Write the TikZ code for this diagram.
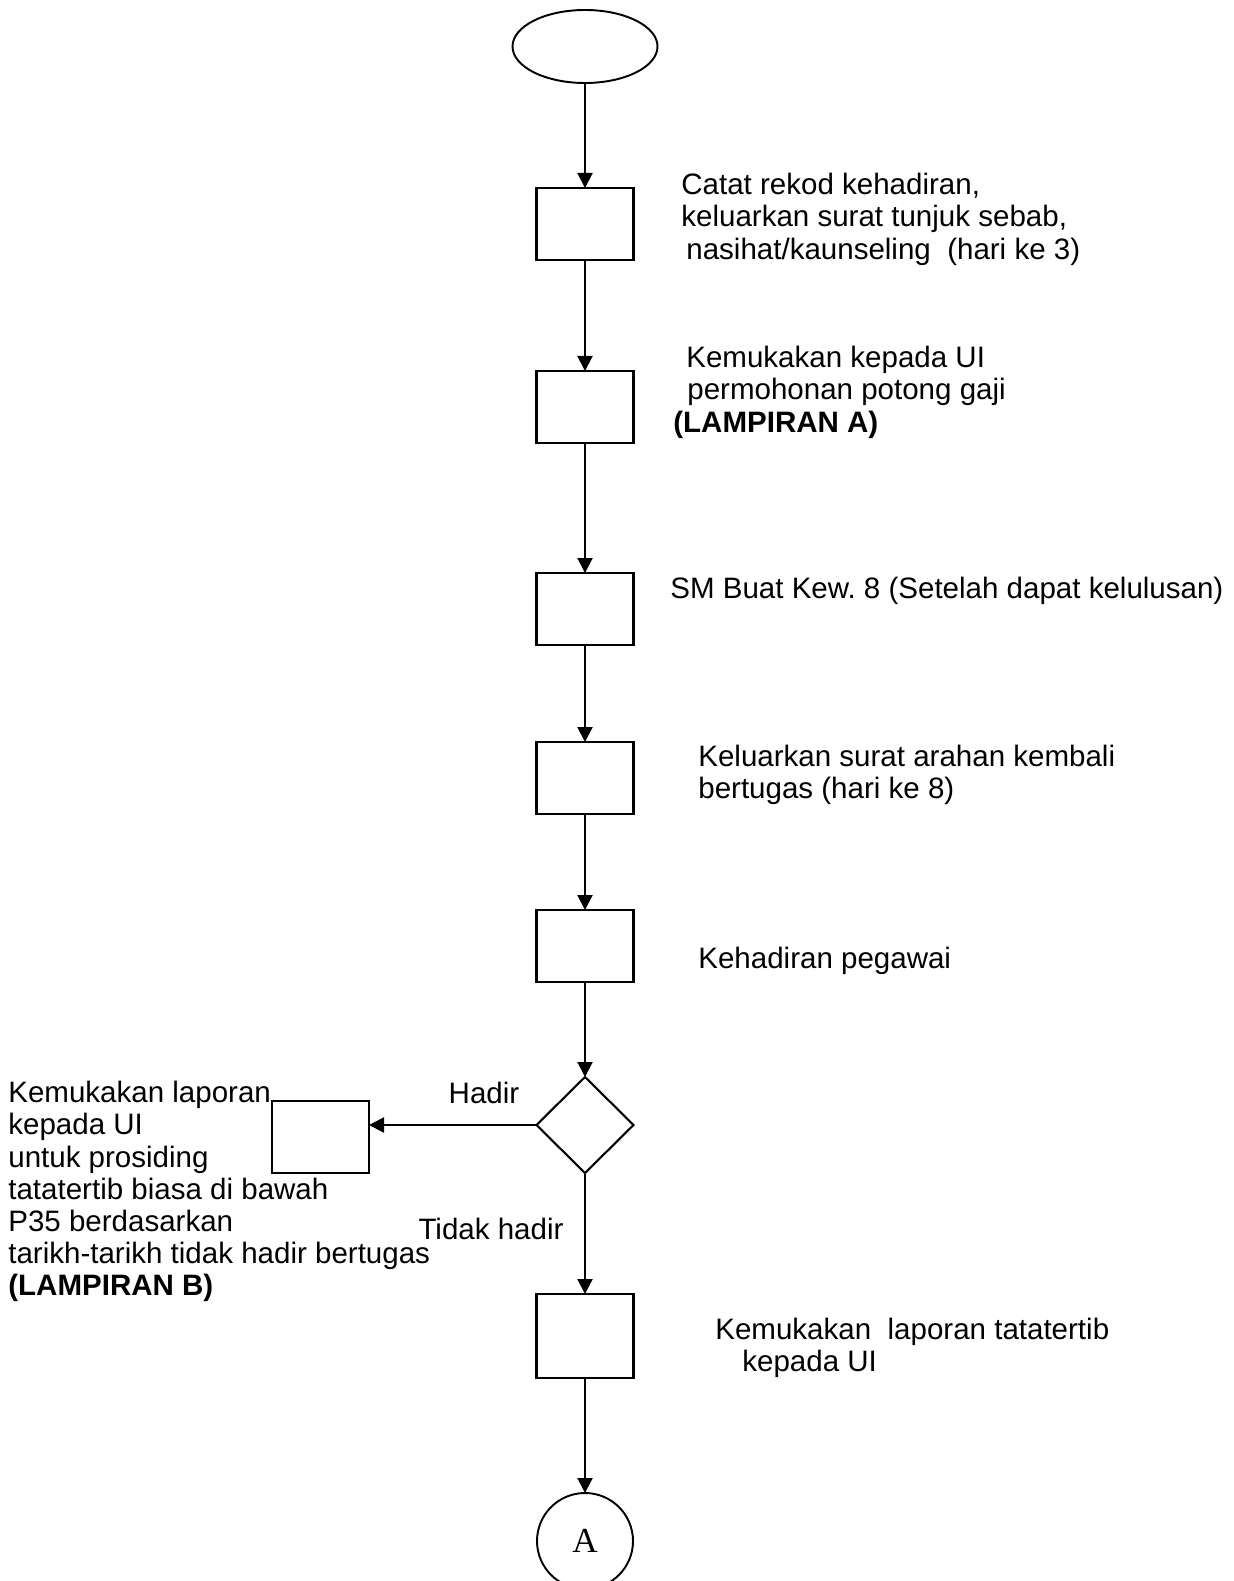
\documentclass[tikz,border=0pt]{standalone}
\usepackage{fontspec}
\setmainfont{Liberation Sans}
\newfontfamily\circlefont{Liberation Serif}
\usetikzlibrary{positioning, arrows.meta, shapes.geometric}
\frenchspacing

\begin{document}
\begin{tikzpicture}[
    node distance = 2cm,
    % Shape Styles
    startOval/.style = {ellipse, draw, line width=1.1pt, outer sep=0pt, minimum width=2.9cm, minimum height=1.46cm},
    stepBox/.style = {rectangle, draw, line width=1.2pt, outer sep=0pt, minimum width=1.94cm, minimum height=1.44cm},
    checkDiamond/.style = {diamond, draw, line width=1.2pt, outer sep=0pt, minimum width=1.94cm, minimum height=1.92cm, inner sep=0pt},
    linkCircle/.style = {circle, draw, line width=1.1pt, outer sep=0pt, minimum size=1.92cm, font=\circlefont\fontsize{20}{22}\selectfont},
    stepText/.style = {anchor=north west, align=left, inner sep=0pt, font=\fontsize{16.8}{18.3}\selectfont},
    % Arrow Style
    flowLine/.style = {-{Triangle[length=0.3cm, width=0.3cm]}, line width=1.2pt}
]
    \useasboundingbox (0,0) rectangle (24.66,-31.62);

    % ==========================================
    % MAIN FLOW (CENTRE COLUMN)
    % ==========================================
    \node[startOval] (Start) at (11.7,-0.93) {};
    \node[stepBox, below=2.1cm of Start] (Rekod) {};
    \node[stepBox, below=2.22cm of Rekod] (Mohon) {};
    \node[stepBox, below=2.6cm of Mohon] (Kew) {};
    \node[stepBox, below=1.94cm of Kew] (Arahan) {};
    \node[stepBox, below=1.92cm of Arahan] (Hadir) {};
    \node[checkDiamond, below=1.9cm of Hadir] (Semak) {};
    \node[stepBox, minimum height=1.68cm, below=2.42cm of Semak] (Lapor) {};
    \node[linkCircle, below=2.3cm of Lapor] (KeA) {A};

    % Side branch box
    \node[stepBox] (Prosiding) at (6.41,-22.74) {};

    \draw[flowLine] (Start) -- (Rekod);
    \draw[flowLine] (Rekod) -- (Mohon);
    \draw[flowLine] (Mohon) -- (Kew);
    \draw[flowLine] (Kew) -- (Arahan);
    \draw[flowLine] (Arahan) -- (Hadir);
    \draw[flowLine] (Hadir) -- (Semak);
    \draw[flowLine] (Semak) -- (Lapor);
    \draw[flowLine] (Lapor) -- (KeA);
    \draw[flowLine] (Semak.west) -- (Semak.west -| Prosiding.east);

    % ==========================================
    % STEP DESCRIPTIONS
    % ==========================================
    \node[stepText] (RekodTxt) at (13.62,-3.46) {Catat rekod kehadiran,\\keluarkan surat tunjuk sebab,\\\hspace*{0.1cm}nasihat/kaunseling\ \ (hari ke 3)};
    \node[stepText] (MohonTxt) at (13.46,-6.92) {\hspace*{0.26cm}Kemukakan kepada UI\\\hspace*{0.28cm}permohonan potong gaji\\\textbf{(LAMPIRAN A)}};
    \node[stepText] (KewTxt) at (13.4,-11.54) {SM Buat Kew. 8 (Setelah dapat kelulusan)};
    \node[stepText] (ArahanTxt) at (13.96,-14.9) {Keluarkan surat arahan kembali\\bertugas (hari ke 8)};
    \node[stepText] (HadirTxt) at (13.96,-18.94) {Kehadiran pegawai};
    \node[stepText] (LaporTxt) at (14.3,-26.36) {Kemukakan\ \ laporan tatatertib\\\hspace*{0.54cm}kepada UI};
    \node[stepText] (ProsidingTxt) at (0.16,-21.62) {Kemukakan laporan\\kepada UI\\untuk prosiding\\tatatertib biasa di bawah\\P35 berdasarkan\\tarikh-tarikh tidak hadir bertugas\\\textbf{(LAMPIRAN B)}};

    % Branch labels
    \node[font=\fontsize{16.8}{18}\selectfont, inner sep=0pt] (YaLbl) at (9.68,-21.86) {Hadir};
    \node[font=\fontsize{16.8}{18}\selectfont, inner sep=0pt] (TidakLbl) at (9.82,-24.58) {Tidak hadir};
\end{tikzpicture}
\end{document}
